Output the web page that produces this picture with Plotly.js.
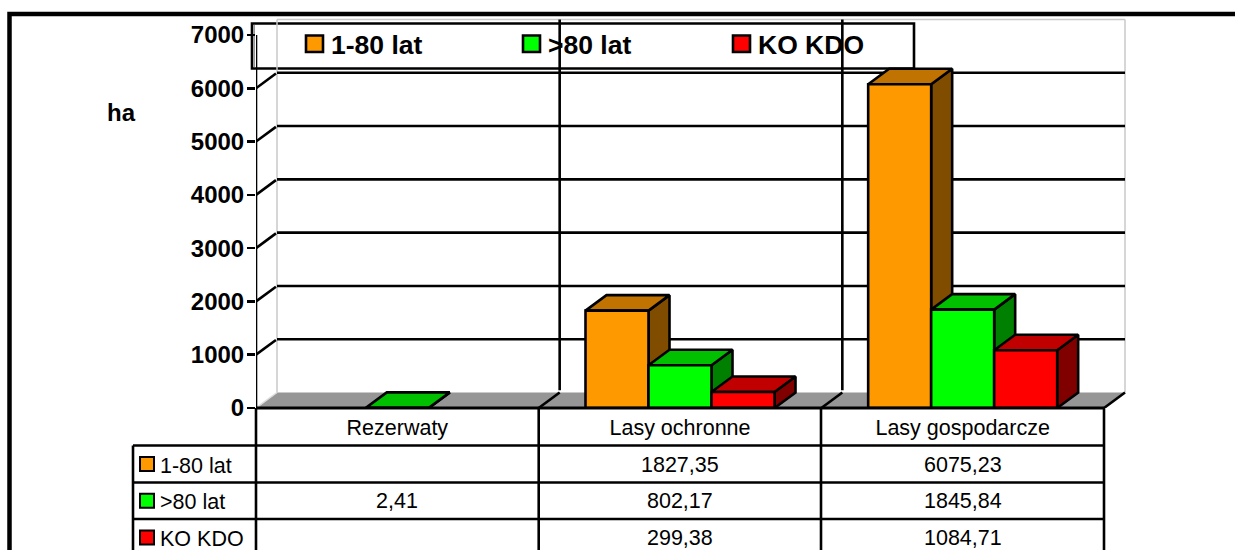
<!DOCTYPE html>
<html><head><meta charset="utf-8">
<script src="https://cdn.plot.ly/plotly-3.0.1.min.js"></script>
<style>html,body{margin:0;padding:0;background:#fff;overflow:hidden}#c{width:1235px;height:550px}</style>
</head><body><div id="c"></div>
<script>
const categories = ['Rezerwaty', 'Lasy ochronne', 'Lasy gospodarcze'];
const seriesNames = ['1-80 lat', '>80 lat', 'KO KDO'];
const young = [null, 1827.35, 6075.23];
const old = [2.41, 802.17, 1845.84];
const koKdo = [null, 299.38, 1084.71];
const yTicks = [0, 1000, 2000, 3000, 4000, 5000, 6000, 7000];
const frontColors = ['#FF9900', '#00FF00', '#FF0000'];
const topColors = ['#C07300', '#00C000', '#C00000'];
const sideColors = ['#804D00', '#008000', '#800000'];
const values = [young, old, koKdo];

const W = 1235, H = 550;
// plot rectangle in pixels
const L = 256, R = 1130, T = 16, B = 408;
const catW = (1104 - 256) / 3;
const unitY = (408 - 35) / 7000;
const dx = 21 / catW, dy = 15.5 / unitY;
const barW = 63 / catW;
const px = v => (v - L) / (R - L);
const py = v => (B - v) / (B - T);
const FONT = 'Liberation Sans, Arial, sans-serif';
const LW = 2.6;
const LINE = {color: '#000', width: LW};

const traces = [];
function poly(xs, ys, fill, name) {
  traces.push({type: 'scatter', mode: 'lines', x: xs.concat(xs[0]), y: ys.concat(ys[0]), fill: 'toself',
    fillcolor: fill, line: LINE, cliponaxis: false, showlegend: false, hoverinfo: 'skip', name});
}
categories.forEach((cat, c) => {
  values.forEach((vals, s) => {
    const v = vals[c];
    if (v === null) return;
    const x0 = c + 0.5 + (s - 1.5) * barW, x1 = x0 + barW;
    poly([x1, x1 + dx, x1 + dx, x1], [0, dy, v + dy, v], sideColors[s], seriesNames[s] + ' side');
    poly([x0, x1, x1 + dx, x0 + dx], [v, v, v + dy, v + dy], topColors[s], seriesNames[s] + ' top');
    poly([x0, x1, x1, x0], [0, 0, v, v], frontColors[s], seriesNames[s]);
  });
});
// y axis line
traces.push({type: 'scatter', mode: 'lines', x: [0, 0], y: [0, 7000], line: LINE, cliponaxis: false, showlegend: false, hoverinfo: 'skip'});

const shapes = [];
const annotations = [];
const dataLine = (x0, y0, x1, y1, color, width, layer) => shapes.push({type: 'line', xref: 'x', yref: 'y', x0, y0, x1, y1,
  line: {color, width}, layer: layer || 'below'});
const pixRect = (x0, y0, x1, y1, fill, line, layer) => shapes.push({type: 'rect', xref: 'paper', yref: 'paper',
  x0: px(x0), x1: px(x1), y0: py(y0), y1: py(y1), fillcolor: fill, line: line, layer: layer || 'above'});
const pixLine = (x0, y0, x1, y1, w) => shapes.push({type: 'line', xref: 'paper', yref: 'paper',
  x0: px(x0), x1: px(x1), y0: py(y0), y1: py(y1), line: {color: '#000', width: w}, layer: 'above'});
const text = (t, x, y, size, bold, anchor) => annotations.push({xref: 'paper', yref: 'paper', x: px(x), y: py(y), text: bold ? '<b>' + t + '</b>' : t,
  showarrow: false, xanchor: anchor || 'left', yanchor: 'middle', align: anchor || 'left', borderpad: 0,
  font: {family: FONT, size, color: '#000'}});

// floor
shapes.push({type: 'path', xref: 'x', yref: 'y', layer: 'below', fillcolor: '#969696', line: {width: 0},
  path: `M0,0 L3,0 L${3 + dx},${dy} L${dx},${dy} Z`});
// back wall border
const GREY = '#C8C8C8';
dataLine(dx, dy, dx, 7000 + dy, GREY, 1.5);
dataLine(3 + dx, dy, 3 + dx, 7000 + dy, GREY, 1.5);
dataLine(dx, 7000 + dy, 3 + dx, 7000 + dy, GREY, 1.5);
dataLine(0, 0, dx, dy, '#DDDDDD', 1.5);
// horizontal gridlines on wall and their diagonals
yTicks.filter(v => v > 0 && v < 7000).forEach(v => {
  dataLine(dx, v + dy, 3 + dx, v + dy, '#000', LW);
  dataLine(0, v, dx * 0.95, v + dy * 0.95, '#000', LW);
});
// vertical gridlines on wall, floor diagonals
[1, 2].forEach(i => {
  dataLine(i + dx, dy + 40, i + dx, 7000 + dy, '#000', LW);
  dataLine(i, 0, i + dx, dy, '#000', LW);
});
dataLine(3, 0, 3 + dx, dy, '#000', LW);

// legend box
const legendX = [306, 523, 733];
shapes.push({type: 'rect', xref: 'paper', yref: 'paper', layer: 'below', x0: px(252), x1: px(914), y0: py(23.5), y1: py(68.5),
  fillcolor: '#fff', line: LINE});
shapes.push({type: 'rect', xref: 'paper', yref: 'paper', layer: 'below', x0: px(253.5), x1: px(255), y0: py(25), y1: py(67),
  fillcolor: '#969696', line: {width: 0}});
seriesNames.forEach((n, s) => {
  shapes.push({type: 'rect', xref: 'paper', yref: 'paper', layer: 'below', x0: px(legendX[s]), x1: px(legendX[s] + 17), y0: py(35.5), y1: py(52),
    fillcolor: frontColors[s], line: LINE});
  text(n.replace('>', '&gt;'), legendX[s] + 23.5, 44.5, 26.5, true);
});
text('ha', 106, 112, 24, true);

// outer frame
pixRect(9.5, 14, 1400, 700, 'rgba(0,0,0,0)', {color: '#000', width: 4.5});

// data table
const rowY = [408, 445.5, 482.5, 519, 556];
const colX = [133, 256, 538.7, 821, 1104];
pixLine(256, 408, 1104, 408, 3);
for (let i = 1; i < rowY.length; i++) pixLine(133, rowY[i], 1104, rowY[i], LW);
pixLine(133, 445.5, 133, 556, LW);
colX.slice(1).forEach(x => pixLine(x, 408, x, 556, LW));
seriesNames.forEach((n, s) => {
  const cy = (rowY[s + 1] + rowY[s + 2]) / 2;
  pixRect(140, cy - 7, 154, cy + 7, frontColors[s], {color: '#000', width: 2});
  text(n.replace('>', '&gt;'), 159, cy + 1.5, 21.5, false);
  values[s].forEach((v, c) => {
    if (v === null) return;
    text(v.toFixed(2).replace('.', ','), 256 + catW * (c + 0.5), cy + 0.5, 21.5, false, 'center');
  });
});

const layout = {
  width: W, height: H, paper_bgcolor: '#fff', plot_bgcolor: '#fff', showlegend: false,
  margin: {l: L, r: W - R, t: T, b: H - B, pad: 0, autoexpand: false},
  xaxis: {range: [0, (R - 256) / catW], showgrid: false, zeroline: false, showline: false, fixedrange: true,
    tickmode: 'array', tickvals: categories.map((c, i) => i + 0.5), ticktext: categories, ticks: '', ticklabelstandoff: 4,
    tickfont: {family: FONT, size: 21.5, color: '#000'}},
  yaxis: {range: [0, (B - T) / unitY], showgrid: false, zeroline: false, showline: false, fixedrange: true,
    tickmode: 'array', tickvals: yTicks, ticktext: yTicks.map(String), ticks: 'outside', ticklen: 8, tickwidth: LW, tickcolor: '#000', ticklabelstandoff: -2,
    tickfont: {family: FONT, size: 24, color: '#000', weight: 'bold'}},
  shapes, annotations
};
Plotly.newPlot('c', traces, layout, {displayModeBar: false, staticPlot: true});
</script></body></html>
